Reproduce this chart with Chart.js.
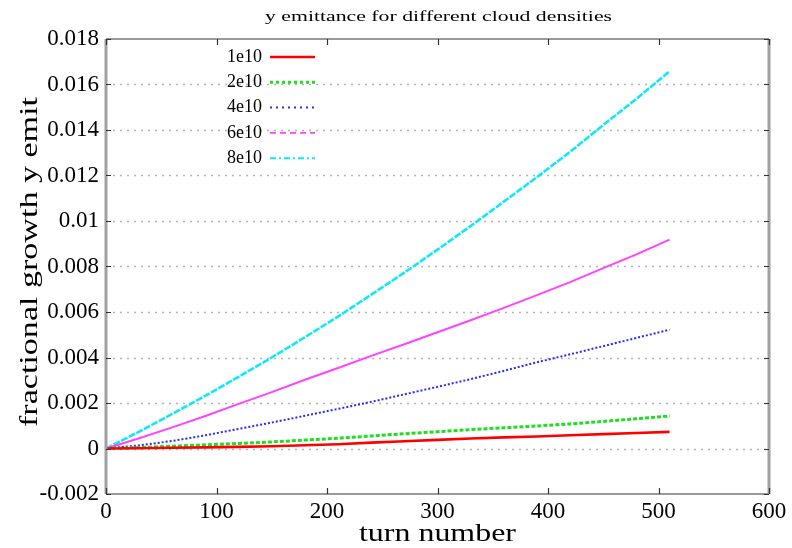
<!DOCTYPE html>
<html>
<head>
<meta charset="utf-8">
<script src="https://cdn.jsdelivr.net/npm/chart.js@4/dist/chart.umd.min.js"></script>
<style>
  html, body { margin: 0; padding: 0; background: #fff; }
  #wrap { width: 792px; height: 548px; }
</style>
</head>
<body>
<div id="wrap"><canvas id="emitChart" width="792" height="548"></canvas></div>
<script>
// --------------------------
// 各雲密度ごとの y エミッタンス成長率
// --------------------------
const turns = [0, 30, 60, 90, 120, 150, 180, 210, 240, 270, 300, 330, 360, 390, 420, 450, 480, 510];

const growth1e10 = [0, 0.00001, 0.00003, 0.00005, 0.00007, 0.00010, 0.00014, 0.00019, 0.00026, 0.00032, 0.00038, 0.00044, 0.00049, 0.00053, 0.00058, 0.00063, 0.00068, 0.00073];
const growth2e10 = [0, 0.00004, 0.00010, 0.00016, 0.00022, 0.00029, 0.00037, 0.00045, 0.00055, 0.00065, 0.00074, 0.00083, 0.00091, 0.00099, 0.00108, 0.00119, 0.00131, 0.00143];
const growth4e10 = [0, 0.00014, 0.00033, 0.00058, 0.00086, 0.00114, 0.00144, 0.00174, 0.00205, 0.00238, 0.00271, 0.00305, 0.00341, 0.00379, 0.00414, 0.00450, 0.00486, 0.00522];
const growth6e10 = [0, 0.00045, 0.00093, 0.00143, 0.00196, 0.00248, 0.00302, 0.00354, 0.00407, 0.00458, 0.00511, 0.00564, 0.00618, 0.00674, 0.00731, 0.00793, 0.00853, 0.00918];
const growth8e10 = [0, 0.00074, 0.00152, 0.00232, 0.00315, 0.00400, 0.00489, 0.00580, 0.00676, 0.00773, 0.00874, 0.00978, 0.01085, 0.01193, 0.01304, 0.01422, 0.01537, 0.01658];

const seriesNames = ['1e10', '2e10', '4e10', '6e10', '8e10'];
const xTicks = [0, 100, 200, 300, 400, 500, 600];
const yTicks = [-0.002, 0, 0.002, 0.004, 0.006, 0.008, 0.01, 0.012, 0.014, 0.016, 0.018];

const chartTitle = 'y emittance for different cloud densities';
const xTitle = 'turn number';
const yTitle = 'fractional growth y emit';

const serif = '"Liberation Serif", "Times New Roman", serif';

function pts(values) {
  return turns.map((t, i) => ({ x: t, y: values[i] }));
}

// 横に引き伸ばした文字列を描く
function stretchText(ctx, text, x, y, font, width, rotate) {
  ctx.save();
  ctx.font = font;
  const w = ctx.measureText(text).width;
  ctx.translate(x, y);
  if (rotate) ctx.rotate(-Math.PI / 2);
  ctx.scale(width / w, 1);
  ctx.textAlign = 'center';
  ctx.textBaseline = 'middle';
  ctx.fillStyle = '#000';
  ctx.fillText(text, 0, 0);
  ctx.restore();
}

const framePlugin = {
  id: 'frame',
  beforeDatasetsDraw(chart) {
    const { ctx, chartArea: a, scales } = chart;
    // 横方向の点線グリッド
    ctx.save();
    ctx.strokeStyle = '#b4b4b4';
    ctx.lineWidth = 1.6;
    ctx.setLineDash([2, 5]);
    yTicks.forEach(v => {
      const py = Math.round(scales.y.getPixelForValue(v)) + 0.5;
      if (py <= a.top + 2 || py >= a.bottom - 2) return;
      ctx.beginPath();
      ctx.moveTo(a.left, py);
      ctx.lineTo(a.right, py);
      ctx.stroke();
    });
    ctx.restore();
  },
  afterDatasetsDraw(chart) {
    const { ctx, chartArea: a, scales } = chart;
    ctx.save();
    // 枠
    ctx.strokeStyle = '#a0a0a0';
    ctx.lineWidth = 3;
    ctx.beginPath();
    ctx.moveTo(a.left, a.top);
    ctx.lineTo(a.left, a.bottom);
    ctx.moveTo(a.right, a.top);
    ctx.lineTo(a.right, a.bottom);
    ctx.stroke();
    ctx.lineWidth = 2;
    ctx.strokeStyle = '#9a9a9a';
    ctx.beginPath();
    ctx.moveTo(a.left, a.top);
    ctx.lineTo(a.right, a.top);
    ctx.moveTo(a.left, a.bottom);
    ctx.lineTo(a.right, a.bottom);
    ctx.stroke();

    // 内向きの目盛り（上下左右）
    ctx.strokeStyle = '#333';
    ctx.lineWidth = 1.2;
    ctx.beginPath();
    xTicks.forEach(v => {
      const px = Math.round(scales.x.getPixelForValue(v)) + 0.5;
      ctx.moveTo(px, a.bottom);
      ctx.lineTo(px, a.bottom - 6);
      ctx.moveTo(px, a.top);
      ctx.lineTo(px, a.top + 6);
    });
    yTicks.forEach(v => {
      const py = Math.round(scales.y.getPixelForValue(v)) + 0.5;
      ctx.moveTo(a.left, py);
      ctx.lineTo(a.left + 5, py);
      ctx.moveTo(a.right, py);
      ctx.lineTo(a.right - 5, py);
    });
    ctx.stroke();

    // 凡例（プロット内左上）
    const textRight = a.left + 156;
    chart.data.datasets.forEach((ds, i) => {
      const y = a.top + 18 + i * 25.3;
      ctx.font = '18px ' + serif;
      ctx.fillStyle = '#000';
      ctx.textAlign = 'right';
      ctx.textBaseline = 'middle';
      ctx.fillText(ds.label, textRight, y);
      ctx.strokeStyle = ds.borderColor;
      ctx.lineWidth = ds.legendWidth;
      ctx.setLineDash(ds.legendDash);
      ctx.beginPath();
      ctx.moveTo(textRight + 8, y);
      ctx.lineTo(textRight + 53, y);
      ctx.stroke();
      ctx.setLineDash([]);
    });
    ctx.restore();
  },
  afterDraw(chart) {
    const { ctx, chartArea: a } = chart;
    const cx = (a.left + a.right) / 2;
    stretchText(ctx, chartTitle, cx + 1, 17, '14px ' + serif, 347, false);
    stretchText(ctx, xTitle, cx, 534, '26px ' + serif, 157, false);
    stretchText(ctx, yTitle, 30, 262, '26px ' + serif, 330, true);
  }
};

const ctx = document.getElementById('emitChart').getContext('2d');
new Chart(ctx, {
  type: 'line',
  data: {
    datasets: [
      { label: seriesNames[0], data: pts(growth1e10), borderColor: '#ff0000', borderWidth: 2.6, borderDash: [],
        legendDash: [], legendWidth: 2.6 },
      { label: seriesNames[1], data: pts(growth2e10), borderColor: '#1ee01e', borderWidth: 3, borderDash: [4, 2],
        legendDash: [3, 3], legendWidth: 3 },
      { label: seriesNames[2], data: pts(growth4e10), borderColor: '#2a2aff', borderWidth: 2, borderDash: [2, 2],
        legendDash: [2, 4], legendWidth: 2 },
      { label: seriesNames[3], data: pts(growth6e10), borderColor: '#ff44ff', borderWidth: 2, borderDash: [],
        legendDash: [6, 4], legendWidth: 1.6 },
      { label: seriesNames[4], data: pts(growth8e10), borderColor: '#10e8f8', borderWidth: 2.6, borderDash: [7, 1.5],
        legendDash: [6, 3, 2, 3], legendWidth: 2 }
    ]
  },
  options: {
    responsive: false,
    animation: false,
    devicePixelRatio: 1,
    layout: { padding: { top: 39, right: 23, left: 0, bottom: 0 } },
    elements: { point: { radius: 0 }, line: { tension: 0, borderCapStyle: 'butt' } },
    plugins: {
      legend: { display: false },
      title: { display: false },
      tooltip: { enabled: false }
    },
    scales: {
      x: {
        type: 'linear',
        min: 0,
        max: 600,
        afterBuildTicks: s => { s.ticks = xTicks.map(v => ({ value: v })); },
        afterFit: s => { s.height = 54; },
        grid: { display: false, drawTicks: false },
        border: { display: false },
        ticks: {
          color: '#000',
          padding: 4,
          maxRotation: 0,
          font: { family: serif, size: 23 }
        }
      },
      y: {
        min: -0.002,
        max: 0.018,
        afterBuildTicks: s => { s.ticks = yTicks.map(v => ({ value: v })); },
        afterFit: s => { s.width = 106; },
        grid: { display: false, drawTicks: false },
        border: { display: false },
        ticks: {
          color: '#000',
          padding: 7,
          font: { family: serif, size: 23 },
          callback: v => String(Number(v.toFixed(3)))
        }
      }
    }
  },
  plugins: [framePlugin]
});
</script>
</body>
</html>
